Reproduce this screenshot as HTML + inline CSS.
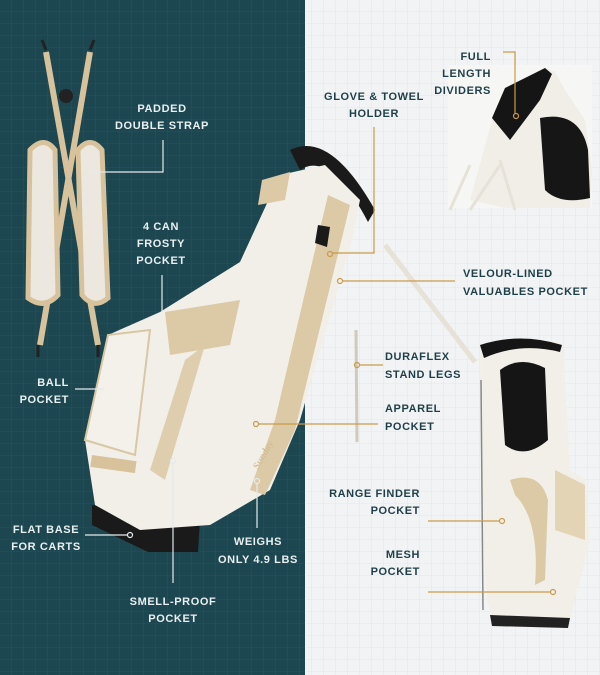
<!DOCTYPE html>
<html><head><meta charset="utf-8"><style>
html,body{margin:0;padding:0;width:600px;height:675px;overflow:hidden}
svg{display:block}
text{font-family:"Liberation Sans",sans-serif;font-weight:bold;font-size:11px;letter-spacing:0.6px}
.d{fill:#e9eff0}.l{fill:#1f3f48}
</style></head><body>
<svg width="600" height="675" viewBox="0 0 600 675" xmlns="http://www.w3.org/2000/svg">
<defs>
<pattern id="gd" width="12" height="12" patternUnits="userSpaceOnUse"><path d="M12 0V12H0" fill="none" stroke="#2f5a63" stroke-width="0.6"/></pattern>
<pattern id="gl" width="12" height="12" patternUnits="userSpaceOnUse"><path d="M12 0V12H0" fill="none" stroke="#d9dfe2" stroke-width="0.6"/></pattern>
</defs>
<rect x="0" y="0" width="305" height="675" fill="#1c4650"/>
<rect x="0" y="0" width="305" height="675" fill="url(#gd)"/>
<rect x="305" y="0" width="295" height="675" fill="#f1f3f4"/>
<rect x="305" y="0" width="295" height="675" fill="url(#gl)"/>

<!-- straps -->
<g>
<path d="M46 52 L98 345" stroke="#d8c29c" stroke-width="6" fill="none"/>
<path d="M90 52 L40 345" stroke="#d8c29c" stroke-width="6" fill="none"/>
<circle cx="66" cy="96" r="7" fill="#222"/>
<path d="M30 150 Q44 135 55 150 L58 295 Q44 310 28 298 Z" fill="#ece8df" stroke="#d8c29c" stroke-width="5"/>
<path d="M78 150 Q90 135 102 150 L108 298 Q94 310 82 295 Z" fill="#ece8df" stroke="#d8c29c" stroke-width="5"/>
<path d="M42 40 l4 10 M94 40 l-4 10 M38 345 v12 M98 345 v12" stroke="#222" stroke-width="3"/>
</g>

<!-- right stand legs -->
<path d="M385 245 L475 362" stroke="#e6e2d8" stroke-width="5"/>
<path d="M356 330 L357 442" stroke="#cfcabd" stroke-width="3"/>

<!-- main bag -->
<path d="M290 150 Q330 130 375 210 L368 222 Q330 150 300 170 Z" fill="#1a1a1a"/>
<path d="M92 505 L200 520 L198 552 L148 552 L92 525 Z" fill="#1a1a1a"/>
<path d="M85 440 L108 335 L160 312 L240 262 L280 175 L325 165 L360 200 L352 240 L300 420 L270 490 L210 525 L140 530 L95 505 Z" fill="#f2efe8"/>
<path d="M328 195 L350 205 L295 430 L265 495 L250 490 L275 420 Z" fill="#dccaa7"/>
<path d="M165 312 L240 300 L230 345 L170 355 Z" fill="#dccaa7"/>
<path d="M185 360 L205 345 L165 480 L150 470 Z" fill="#dccaa7" opacity="0.9"/>
<path d="M85 440 L108 335 L150 330 L135 455 Z" fill="#f4f1ea" stroke="#d8c7a4" stroke-width="2"/>
<rect x="92" y="455" width="45" height="12" fill="#d8c29c" transform="rotate(8 92 455)"/>
<path d="M262 180 L290 172 L285 200 L258 205 Z" fill="#dccaa7"/>
<path d="M318 225 l12 2 l-3 20 l-12 -4 Z" fill="#1a1a1a"/>
<text x="258" y="470" transform="rotate(-60 258 470)" style="font-family:'Liberation Serif',serif;font-style:italic;font-size:10px;letter-spacing:0" fill="#d2bf98">Sunday</text>

<!-- top right inset -->
<g>
<rect x="448" y="65" width="144" height="143" fill="#f6f6f4"/>
<path d="M470 200 L495 110 L510 85 L545 68 L555 72 L565 90 L585 120 L592 170 L590 208 L505 208 Z" fill="#f1eee7"/>
<path d="M492 118 L505 88 L545 68 L552 74 L540 100 L510 140 Z" fill="#151515"/>
<path d="M540 118 Q580 110 588 150 L590 198 Q560 205 545 190 Z" fill="#161616"/>
<path d="M470 165 L450 210 M500 165 L470 210 M500 160 L515 210" stroke="#e6e2d8" stroke-width="3"/>
</g>

<!-- bottom right bag -->
<g>
<path d="M480 355 Q485 340 520 340 L560 342 Q565 350 565 380 L570 470 L585 480 L590 540 L575 600 L570 620 L495 625 L487 600 L482 520 Z" fill="#f2efe8"/>
<path d="M480 345 Q520 332 562 345 L560 352 Q520 342 484 358 Z" fill="#151515"/>
<path d="M500 370 Q520 355 545 368 L548 440 Q525 460 505 445 Z" fill="#151515"/>
<path d="M510 480 Q540 470 548 500 L545 580 L535 585 Q540 520 515 495 Z" fill="#dccaa7"/>
<path d="M555 470 L585 485 L585 540 L555 530 Z" fill="#e3d4b5"/>
<path d="M490 615 L570 618 L568 628 L492 626 Z" fill="#222"/>
<path d="M481 380 L483 610" stroke="#888" stroke-width="1.5"/>
</g>

<!-- connectors white -->
<g stroke="#e4eaec" stroke-width="1.2" fill="none">
<path d="M163 140 V172 H88"/>
<path d="M162 275 V312"/>
<path d="M75 389 H104"/>
<path d="M85 535 H128"/>
<path d="M173 463 V583"/>
<path d="M257 483 V528"/>
</g>
<g fill="none" stroke="#e4eaec" stroke-width="1.2"><circle cx="173" cy="461" r="2.5"/><circle cx="257" cy="481" r="2.5"/><circle cx="130" cy="535" r="2.5"/></g>
<!-- connectors gold -->
<g stroke="#c99a4a" stroke-width="1.2" fill="none">
<path d="M374 127 V253 H332"/>
<path d="M503 52 H515 V114"/>
<path d="M455 281 H342"/>
<path d="M383 365 H359"/>
<path d="M378 424 H258"/>
<path d="M428 521 H500"/>
<path d="M428 592 H551"/>
<circle cx="330" cy="254" r="2.5"/><circle cx="516" cy="116" r="2.5"/><circle cx="340" cy="281" r="2.5"/>
<circle cx="357" cy="365" r="2.5"/><circle cx="256" cy="424" r="2.5"/><circle cx="502" cy="521" r="2.5"/><circle cx="553" cy="592" r="2.5"/>
</g>

<!-- labels dark -->
<g class="d" text-anchor="middle">
<text x="162" y="112">PADDED</text><text x="162" y="129">DOUBLE STRAP</text>
<text x="161" y="230">4 CAN</text><text x="161" y="247">FROSTY</text><text x="161" y="264">POCKET</text>
<text x="46" y="533">FLAT BASE</text><text x="46" y="550">FOR CARTS</text>
<text x="173" y="605">SMELL-PROOF</text><text x="173" y="622">POCKET</text>
<text x="258" y="545">WEIGHS</text><text x="258" y="563">ONLY 4.9 LBS</text>
</g>
<g class="d" text-anchor="end"><text x="69" y="386">BALL</text><text x="69" y="403">POCKET</text></g>
<!-- labels light -->
<g class="l" text-anchor="middle"><text x="374" y="100">GLOVE &amp; TOWEL</text><text x="374" y="117">HOLDER</text></g>
<g class="l" text-anchor="end">
<text x="491" y="60">FULL</text><text x="491" y="77">LENGTH</text><text x="491" y="94">DIVIDERS</text>
<text x="420" y="497">RANGE FINDER</text><text x="420" y="514">POCKET</text>
<text x="420" y="558">MESH</text><text x="420" y="575">POCKET</text>
</g>
<g class="l">
<text x="463" y="277">VELOUR-LINED</text><text x="463" y="295">VALUABLES POCKET</text>
<text x="385" y="360">DURAFLEX</text><text x="385" y="378">STAND LEGS</text>
<text x="385" y="412">APPAREL</text><text x="385" y="430">POCKET</text>
</g>
</svg>
</body></html>
